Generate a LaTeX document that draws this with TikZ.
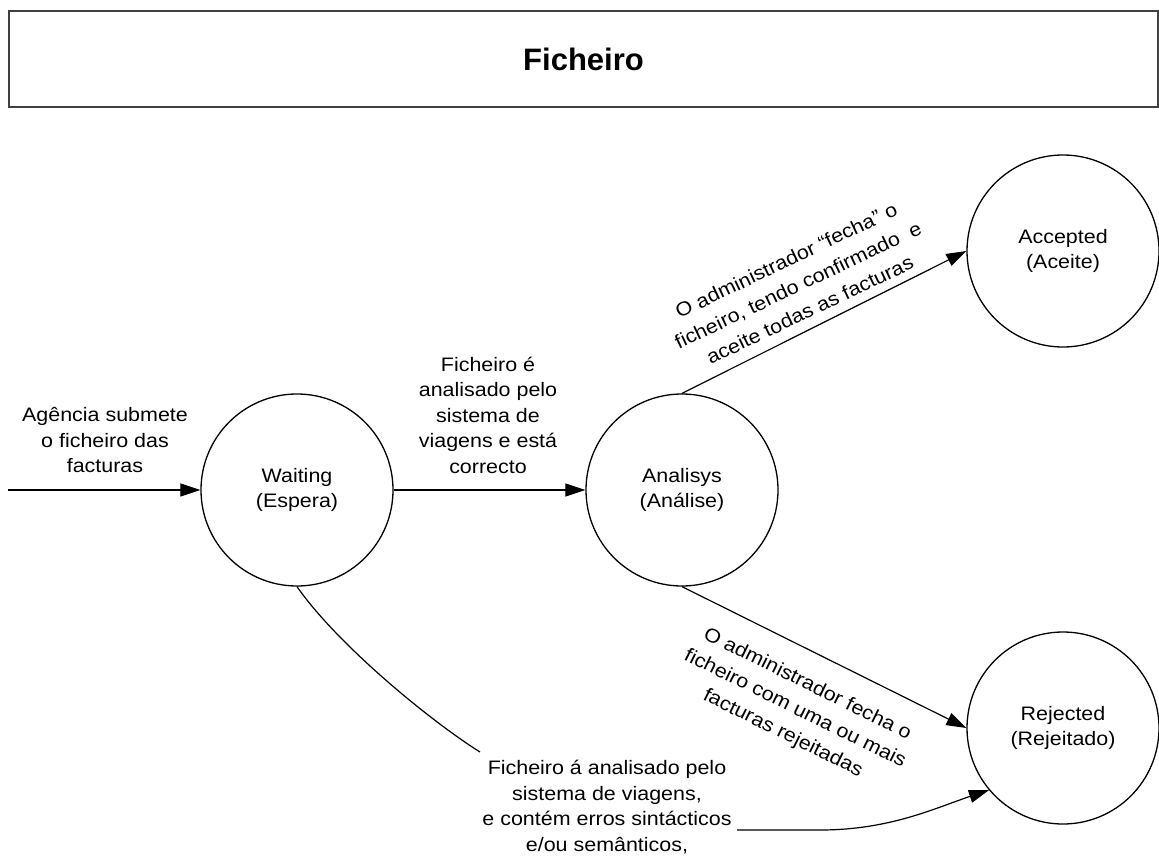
\documentclass[tikz,border=0pt]{standalone}
\usepackage{fontspec}
\setmainfont{Liberation Sans}[FakeStretch=1.1]
\newfontfamily\titlefamily{Liberation Sans}
\usetikzlibrary{arrows.meta}

% text sizes for state names / transition labels and for the heading
\newcommand\lblfont{\fontsize{19.5}{25.5}\selectfont}
\newcommand\slantfont{\fontsize{19.5}{27.5}\selectfont}
\newcommand\headfont{\titlefamily\bfseries\fontsize{31}{31}\selectfont}

\begin{document}
\begin{tikzpicture}[x=1pt,y=-1pt,
  state/.style={circle,draw,line width=1.3pt,minimum size=192pt,inner sep=0pt,
                align=center,font=\lblfont},
  lbl/.style={align=center,font=\lblfont,inner sep=0pt},
  slbl/.style={align=center,font=\slantfont,inner sep=0pt},
  edge/.style={line width=1.2pt},
  arr/.style={edge,-{Triangle[length=20pt,width=13pt]}},
]
\useasboundingbox (0,0) rectangle (1159,856);

% heading frame
\node[draw=black!75,line width=2pt,minimum width=1149pt,minimum height=96pt,
      inner sep=0pt,font=\headfont] (title) at (583.5,59) {Ficheiro};

% states
\node[state] (wai) at (297,490) {Waiting\\(Espera)};
\node[state] (ana) at (682,490) {Analisys\\(Análise)};
\node[state] (acc) at (1063,251) {Accepted\\(Aceite)};
\node[state] (rej) at (1063,728) {Rejected\\(Rejeitado)};

% transitions
\coordinate (src) at (8,490);
\draw[arr] (src) -- (wai.west);
\draw[arr] (wai.east) -- (ana.west);
\draw[arr] (ana.north) -- (acc.west);
\draw[arr] (ana.south) -- (rej.west);

\coordinate (c1) at (480,752);
\coordinate (c2) at (737,830);
\draw[edge] (wai.south) .. controls (337,644) and (429,720) .. (c1);
\draw[arr] (c2) -- (820,830) .. controls (890,830) and (935,808) .. (rej.220);

% transition labels
\node[lbl] (lin) at (105,440) {Agência submete\\o ficheiro das\\facturas};
\node[lbl] (lmid) at (488,415) {Ficheiro é\\analisado pelo\\sistema de\\viagens e está\\correcto};
\node[slbl,rotate=25.5] (lacc) at (798,285)
  {O administrador “fecha” o\\ficheiro, tendo confirmado\ \ e\\aceite todas as facturas};
\node[slbl,rotate=-26.3] (lrej) at (795,709)
  {O administrador fecha o\\ficheiro com uma ou mais\\facturas rejeitadas};
\node[lbl] (lbot) at (607,807)
  {Ficheiro á analisado pelo\\sistema de viagens,\\e contém erros sintácticos\\e/ou semânticos,};
\end{tikzpicture}
\end{document}
